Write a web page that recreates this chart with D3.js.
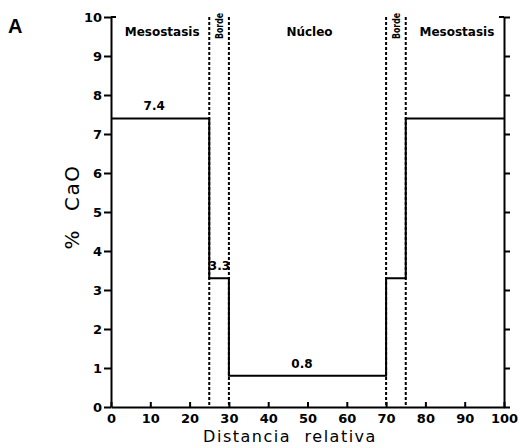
<!DOCTYPE html>
<html>
<head>
<meta charset="utf-8">
<script src="https://cdn.jsdelivr.net/npm/d3@7"></script>
<style>
  body { margin: 0; background: #fff; }
  text { fill: #000; }
</style>
</head>
<body>
<div id="chart"></div>
<script>
var svgW = 520;
var svgH = 448;

// zone edges (relative distance) and CaO % in each zone
var edges = [0, 25, 30, 70, 75, 100];
var cao = [7.4, 3.3, 0.8, 3.3, 7.4];
var zones = ["Mesostasis", "Borde", "Núcleo", "Borde", "Mesostasis"];
var valueLabels = [{x: 11, v: 7.4, t: "7.4"}, {x: 27.6, v: 3.3, t: "3.3"}, {x: 48.6, v: 0.8, t: "0.8"}];
var xTicks = [0, 10, 20, 30, 40, 50, 60, 70, 80, 90, 100];
var yTicks = [0, 1, 2, 3, 4, 5, 6, 7, 8, 9, 10];

var svg = d3.select("#chart").append("svg")
    .attr("width", svgW)
    .attr("height", svgH);

var x = d3.scaleLinear().domain([0, 100]).range([111, 504]);
var y = d3.scaleLinear().domain([0, 10]).range([407, 17]);

var tickFont = "'DejaVu Sans', sans-serif";

// axes
svg.append("g")
    .attr("transform", `translate(${x(0)},0)`)
    .call(d3.axisLeft(y).tickValues(yTicks).tickSize(7).tickSizeOuter(0).tickPadding(2).tickFormat(d3.format("d")));
svg.append("g")
    .attr("transform", `translate(${x(100)},0)`)
    .call(d3.axisRight(y).tickValues(yTicks).tickSize(6).tickSizeOuter(0).tickFormat(""));
svg.append("g")
    .attr("transform", `translate(0,${y(0)})`)
    .call(d3.axisBottom(x).tickValues(xTicks).tickSize(-5).tickSizeOuter(0).tickPadding(7).tickFormat(d3.format("d")));

svg.selectAll(".domain").attr("stroke", "#000").attr("stroke-width", 2);
svg.selectAll(".tick line").attr("stroke", "#000").attr("stroke-width", 2);
svg.selectAll(".tick text")
    .attr("font-family", tickFont)
    .attr("font-weight", "bold")
    .attr("font-size", 13)
    .attr("fill", "#000");

// little hooks at top of the side axes
svg.append("line").attr("x1", x(0)).attr("x2", x(0) + 5).attr("y1", y(10)).attr("y2", y(10))
    .attr("stroke", "#000").attr("stroke-width", 2);
svg.append("line").attr("x1", x(100)).attr("x2", x(100) - 5).attr("y1", y(10)).attr("y2", y(10))
    .attr("stroke", "#000").attr("stroke-width", 2);

// dashed zone boundaries
svg.selectAll(".bound")
    .data(edges.slice(1, -1))
    .enter()
    .append("line")
    .attr("class", "bound")
    .attr("x1", d => x(d)).attr("x2", d => x(d))
    .attr("y1", y(10)).attr("y2", y(0))
    .attr("stroke", "#000")
    .attr("stroke-width", 2)
    .attr("stroke-dasharray", "3,2");

// step profile
var pts = cao.map((v, i) => [edges[i], v]);
pts.push([edges[edges.length - 1], cao[cao.length - 1]]);
var line = d3.line()
    .x(d => x(d[0]))
    .y(d => y(d[1]))
    .curve(d3.curveStepAfter);
svg.append("path")
    .attr("d", line(pts))
    .attr("fill", "none")
    .attr("stroke", "#000")
    .attr("stroke-width", 2);

// value labels
svg.selectAll(".vlab")
    .data(valueLabels)
    .enter()
    .append("text")
    .attr("class", "vlab")
    .attr("x", d => x(d.x))
    .attr("y", d => y(d.v) - 8)
    .attr("text-anchor", "middle")
    .attr("font-family", tickFont)
    .attr("font-weight", "bold")
    .attr("font-size", 12)
    .text(d => d.t);

// zone names
zones.forEach(function (z, i) {
    var cx = x((edges[i] + edges[i + 1]) / 2);
    if (z === "Borde") {
        svg.append("text")
            .attr("transform", `translate(${cx + 4},26) rotate(-90)`)
            .attr("text-anchor", "middle")
            .attr("font-family", tickFont)
            .attr("font-weight", "bold")
            .attr("font-size", 11)
            .attr("textLength", 26)
            .attr("lengthAdjust", "spacingAndGlyphs")
            .text(z);
    } else {
        svg.append("text")
            .attr("x", cx + 2)
            .attr("y", 36)
            .attr("text-anchor", "middle")
            .attr("font-family", tickFont)
            .attr("font-weight", "bold")
            .attr("font-size", 12)
            .text(z);
    }
});

// axis titles
svg.append("text")
    .attr("x", 290)
    .attr("y", 442)
    .attr("text-anchor", "middle")
    .attr("font-family", tickFont)
    .attr("font-size", 16)
    .attr("letter-spacing", 1.5)
    .attr("word-spacing", 7)
    .text("Distancia relativa");

svg.append("text")
    .attr("transform", "translate(79,207) rotate(-90)")
    .attr("text-anchor", "middle")
    .attr("font-family", tickFont)
    .attr("font-size", 20)
    .attr("letter-spacing", 1.5)
    .attr("word-spacing", 10)
    .text("% CaO");

svg.append("text")
    .attr("x", 8)
    .attr("y", 33)
    .attr("font-family", "'Liberation Sans', Arial, sans-serif")
    .attr("font-weight", "bold")
    .attr("font-size", 20)
    .text("A");
</script>
</body>
</html>
